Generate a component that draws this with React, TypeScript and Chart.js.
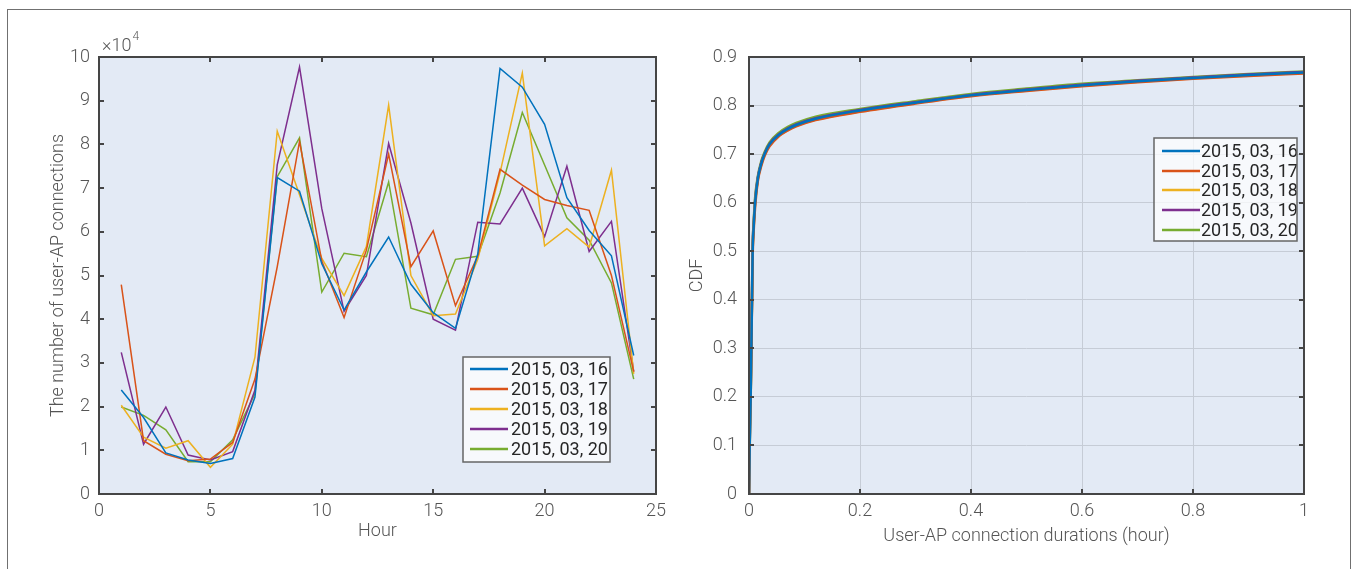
import React, { useEffect, useRef } from 'react';
import { Chart, registerables } from 'chart.js';
Chart.register(...registerables);

// ---------- Data ----------
const SERIES_LABELS = ['2015, 03, 16', '2015, 03, 17', '2015, 03, 18', '2015, 03, 19', '2015, 03, 20'];
const SERIES_COLORS = ['#0072BD', '#D95319', '#EDB120', '#7E2F8E', '#77AC30'];

const HOURS = [1, 2, 3, 4, 5, 6, 7, 8, 9, 10, 11, 12, 13, 14, 15, 16, 17, 18, 19, 20, 21, 22, 23, 24];
const CONN_16 = [23800, 17500, 9400, 7800, 7000, 8100, 22200, 72400, 69300, 52700, 42100, 50800, 58800, 48000, 41500, 37900, 54900, 97400, 93100, 84600, 67800, 60300, 54500, 31700];
const CONN_17 = [47900, 12200, 9100, 7600, 8000, 11800, 26300, 52000, 80700, 53300, 40400, 55800, 77800, 52000, 60200, 43100, 54500, 74300, 70700, 67400, 66000, 64900, 50000, 28000];
const CONN_18 = [20300, 13000, 10500, 12200, 6100, 11400, 31300, 83000, 68500, 53900, 45400, 56600, 89000, 50000, 40800, 41200, 53700, 73500, 96300, 56800, 60700, 56500, 74100, 27500];
const CONN_19 = [32400, 11400, 19900, 8900, 7800, 9700, 23800, 75300, 97700, 65300, 41800, 50000, 80200, 62000, 40000, 37500, 62200, 61800, 70000, 58900, 75000, 55500, 62400, 28000];
const CONN_20 = [19900, 18000, 14700, 7400, 7400, 12400, 23000, 72600, 81500, 46200, 55100, 54300, 71400, 42500, 41000, 53700, 54400, 68900, 87300, 75300, 63200, 58100, 48300, 26300];

const LEFT_Y_TICKS_MAX = 100000;
const LEFT_Y_STEP = 10000;
const LEFT_X_MAX = 25;
const LEFT_X_STEP = 5;

const CDF_X = [0, 0.0012, 0.003, 0.0042, 0.0054, 0.0066, 0.0084, 0.011, 0.016, 0.022, 0.028, 0.037, 0.054, 0.07, 0.085, 0.12, 0.2, 0.3, 0.4, 0.5, 0.6, 0.7, 0.8, 0.9, 1.0];
const CDF_16 = [0, 0.10, 0.20, 0.30, 0.40, 0.50, 0.55, 0.60, 0.65, 0.68, 0.70, 0.72, 0.740, 0.752, 0.760, 0.773, 0.790, 0.806, 0.821, 0.832, 0.842, 0.850, 0.857, 0.863, 0.868];
const CDF_17 = [0, 0.13, 0.21, 0.30, 0.39, 0.49, 0.54, 0.59, 0.645, 0.675, 0.696, 0.716, 0.737, 0.749, 0.757, 0.770, 0.787, 0.804, 0.819, 0.830, 0.840, 0.848, 0.855, 0.861, 0.866];
const CDF_18 = [0, 0.11, 0.20, 0.30, 0.40, 0.50, 0.55, 0.60, 0.648, 0.678, 0.698, 0.718, 0.738, 0.750, 0.758, 0.771, 0.788, 0.805, 0.820, 0.831, 0.841, 0.849, 0.856, 0.862, 0.867];
const CDF_19 = [0, 0.10, 0.20, 0.31, 0.41, 0.51, 0.555, 0.605, 0.652, 0.682, 0.701, 0.721, 0.741, 0.753, 0.761, 0.774, 0.791, 0.807, 0.822, 0.833, 0.843, 0.851, 0.858, 0.864, 0.869];
const CDF_20 = [0, 0.09, 0.19, 0.30, 0.41, 0.51, 0.56, 0.61, 0.655, 0.685, 0.704, 0.724, 0.744, 0.756, 0.764, 0.777, 0.793, 0.809, 0.824, 0.835, 0.845, 0.852, 0.859, 0.865, 0.870];

const LEFT_SERIES = [CONN_16, CONN_17, CONN_18, CONN_19, CONN_20];
const RIGHT_SERIES = [CDF_16, CDF_17, CDF_18, CDF_19, CDF_20];

// ---------- Styles ----------
const FONT = "Roboto, 'Noto Sans', sans-serif";
const FS = 18;
const TEXT_COLOR = '#555555';
const LEGEND_TEXT = '#262626';
const PLOT_BG = '#e3eaf5';
const AXIS_COLOR = '#454545';
const labelFont = { family: FONT, size: FS, weight: '300' };

const plotBg = {
  id: 'plotBg',
  beforeDraw(chart: any) {
    const { ctx, chartArea: a } = chart;
    ctx.save();
    ctx.fillStyle = PLOT_BG;
    ctx.fillRect(a.left, a.top, a.right - a.left, a.bottom - a.top);
    ctx.restore();
  },
};

const axesBox = {
  id: 'axesBox',
  afterDatasetsDraw(chart: any) {
    const { ctx, chartArea: a, scales } = chart;
    const tl = 5;
    ctx.save();
    ctx.strokeStyle = AXIS_COLOR;
    ctx.lineWidth = 2;
    ctx.beginPath();
    scales.x.ticks.forEach((t: any) => {
      const px = Math.round(scales.x.getPixelForValue(t.value));
      ctx.moveTo(px, a.bottom); ctx.lineTo(px, a.bottom - tl);
      ctx.moveTo(px, a.top); ctx.lineTo(px, a.top + tl);
    });
    scales.y.ticks.forEach((t: any) => {
      const py = Math.round(scales.y.getPixelForValue(t.value));
      ctx.moveTo(a.left, py); ctx.lineTo(a.left + tl, py);
      ctx.moveTo(a.right, py); ctx.lineTo(a.right - tl, py);
    });
    ctx.stroke();
    ctx.strokeRect(a.left, a.top, a.right - a.left, a.bottom - a.top);
    ctx.restore();
  },
};

const boxLegend = {
  id: 'boxLegend',
  afterDraw(chart: any, _args: any, o: any) {
    if (!o || !o.rows) return;
    const { ctx } = chart;
    ctx.save();
    ctx.fillStyle = 'rgba(255,255,255,0.72)';
    ctx.fillRect(o.x, o.y, o.w, o.h);
    ctx.beginPath();
    ctx.rect(o.x, o.y, o.w, o.h);
    ctx.clip();
    chart.data.datasets.forEach((ds: any, i: number) => {
      const ry = o.rows[i];
      ctx.strokeStyle = ds.borderColor;
      ctx.lineWidth = 2.5;
      ctx.beginPath();
      ctx.moveTo(o.lx0, ry);
      ctx.lineTo(o.lx1, ry);
      ctx.stroke();
      ctx.fillStyle = LEGEND_TEXT;
      ctx.font = `${FS}px ${FONT}`;
      ctx.textBaseline = 'middle';
      ctx.textAlign = 'left';
      ctx.fillText(ds.label, o.tx, ry + 1);
    });
    ctx.restore();
    ctx.save();
    ctx.strokeStyle = '#666';
    ctx.lineWidth = 1.5;
    ctx.strokeRect(o.x, o.y, o.w, o.h);
    ctx.restore();
  },
};

const exponentLabel = {
  id: 'exponentLabel',
  afterDraw(chart: any, _args: any, o: any) {
    if (!o || !o.show) return;
    const { ctx } = chart;
    ctx.save();
    ctx.fillStyle = TEXT_COLOR;
    ctx.textBaseline = 'middle';
    ctx.textAlign = 'left';
    ctx.font = `300 ${FS}px ${FONT}`;
    const base = '\u00d710';
    ctx.fillText(base, o.x, o.y);
    const w = ctx.measureText(base).width;
    ctx.font = `300 12px ${FONT}`;
    ctx.fillText('4', o.x + w + 1, o.y - 9);
    ctx.restore();
  },
};

function leftConfig(): any {
  return {
    type: 'line',
    data: {
      datasets: LEFT_SERIES.map((s, i) => ({
        label: SERIES_LABELS[i],
        data: HOURS.map((h, j) => ({ x: h, y: s[j] })),
        borderColor: SERIES_COLORS[i],
        backgroundColor: SERIES_COLORS[i],
        borderWidth: 1.5,
        pointRadius: 0,
        tension: 0,
        fill: false,
      })),
    },
    options: {
      responsive: false,
      animation: false,
      devicePixelRatio: 1,
      layout: { padding: { left: 0, top: 57, right: 24, bottom: 0 } },
      plugins: {
        legend: { display: false },
        tooltip: { enabled: false },
        boxLegend: { x: 463, y: 357, w: 147, h: 105, rows: [369, 389, 409, 429, 449], lx0: 470, lx1: 508, tx: 511 },
        exponentLabel: { show: true, x: 102, y: 46 },
      },
      scales: {
        x: {
          type: 'linear',
          min: 0,
          max: LEFT_X_MAX,
          ticks: { stepSize: LEFT_X_STEP, color: TEXT_COLOR, font: labelFont, padding: 7, maxRotation: 0 },
          grid: { display: false, drawTicks: false },
          border: { display: false },
          title: { display: true, text: 'Hour', color: TEXT_COLOR, font: labelFont, padding: { top: 0, bottom: 27 } },
          afterFit: (s: any) => { s.height = 75; },
        },
        y: {
          type: 'linear',
          min: 0,
          max: LEFT_Y_TICKS_MAX,
          ticks: {
            stepSize: LEFT_Y_STEP, color: TEXT_COLOR, font: labelFont, padding: 9,
            callback: (v: number) => String(Math.round(v / LEFT_Y_STEP)),
          },
          grid: { display: false, drawTicks: false },
          border: { display: false },
          title: { display: true, text: 'The number of user-AP connections', color: TEXT_COLOR, font: labelFont, padding: { top: 48, bottom: 0 } },
          afterFit: (s: any) => { s.width = 99; },
        },
      },
    },
    plugins: [plotBg, axesBox, boxLegend, exponentLabel],
  };
}

function rightConfig(): any {
  return {
    type: 'line',
    data: {
      datasets: RIGHT_SERIES.map((s, i) => ({
        label: SERIES_LABELS[i],
        data: CDF_X.map((x, j) => ({ x, y: s[j] })),
        borderColor: SERIES_COLORS[i],
        backgroundColor: SERIES_COLORS[i],
        borderWidth: 2.5,
        pointRadius: 0,
        cubicInterpolationMode: 'monotone',
        fill: false,
      })),
    },
    options: {
      responsive: false,
      animation: false,
      devicePixelRatio: 1,
      layout: { padding: { left: 0, top: 57, right: 56, bottom: 0 } },
      plugins: {
        legend: { display: false },
        tooltip: { enabled: false },
        boxLegend: { x: 474, y: 138, w: 143, h: 103, rows: [151, 171, 190, 210, 230], lx0: 482, lx1: 520, tx: 521 },
      },
      scales: {
        x: {
          type: 'linear',
          min: 0,
          max: 1,
          ticks: {
            stepSize: 0.2, color: TEXT_COLOR, font: labelFont, padding: 7, maxRotation: 0,
            callback: (v: number) => (Math.abs(v) < 1e-9 ? '0' : Math.abs(v - 1) < 1e-9 ? '1' : v.toFixed(1)),
          },
          grid: { display: true, drawTicks: false, color: '#c6ccd6', lineWidth: 1 },
          border: { display: false },
          title: { display: true, text: 'User-AP connection durations (hour)', color: TEXT_COLOR, font: labelFont, padding: { top: 0, bottom: 22 } },
          afterFit: (s: any) => { s.height = 75; },
        },
        y: {
          type: 'linear',
          min: 0,
          max: 0.9,
          ticks: {
            stepSize: 0.1, color: TEXT_COLOR, font: labelFont, padding: 12,
            callback: (v: number) => (Math.abs(v) < 1e-9 ? '0' : v.toFixed(1)),
          },
          grid: { display: true, drawTicks: false, color: '#c6ccd6', lineWidth: 1 },
          border: { display: false },
          title: { display: true, text: 'CDF', color: TEXT_COLOR, font: labelFont, padding: { top: 7, bottom: 0 } },
          afterFit: (s: any) => { s.width = 69; },
        },
      },
    },
    plugins: [plotBg, axesBox, boxLegend],
  };
}

function ChartCanvas({ config, left }: { config: () => any; left: number }) {
  const ref = useRef<HTMLCanvasElement | null>(null);
  useEffect(() => {
    if (!ref.current) return;
    const chart = new Chart(ref.current, config());
    return () => chart.destroy();
  }, [config]);
  return (
    <canvas
      ref={ref}
      width={680}
      height={569}
      style={{ position: 'absolute', left, top: 0, width: 680, height: 569 }}
    />
  );
}

export default function App() {
  return (
    <div style={{ position: 'fixed', left: 0, top: 0, width: 1360, height: 569, background: '#fff', overflow: 'hidden' }}>
      <div
        style={{
          position: 'absolute', left: 7, top: 9, width: 1344, height: 620,
          border: '1px solid #707070', boxSizing: 'border-box',
        }}
      />
      <ChartCanvas config={leftConfig} left={0} />
      <ChartCanvas config={rightConfig} left={680} />
    </div>
  );
}
